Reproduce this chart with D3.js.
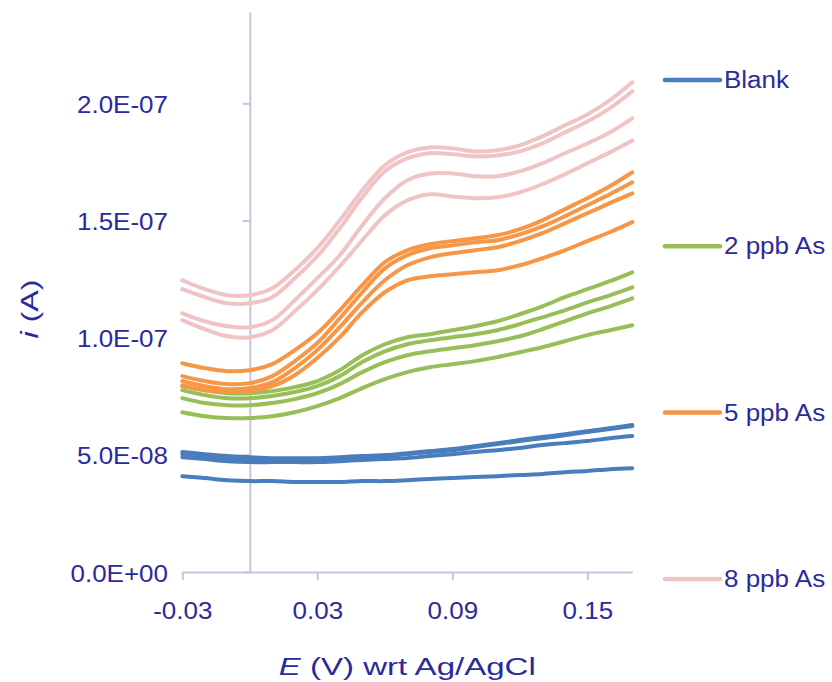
<!DOCTYPE html>
<html><head><meta charset="utf-8">
<script src="https://cdn.jsdelivr.net/npm/d3@7"></script>
<style>
body{margin:0;background:#fff}
svg{display:block}
text{font-family:"Liberation Sans",Arial,sans-serif;fill:#2a2a9c}
</style>
</head><body>
<svg id="chart" width="832" height="682"></svg>
<script>
// ---- data ----
const POTENTIAL_V = [-0.03,-0.02,-0.01,0.00,0.01,0.02,0.03,0.04,0.05,0.06,0.07,0.08,0.09,0.10,0.11,0.12,0.13,0.14,0.15,0.16,0.17];
const CURRENT_UNIT = 1e-8; // values below are in units of 1E-08 A

const blank1 = [5.12,5.03,4.95,4.90,4.86,4.86,4.86,4.90,4.95,4.99,5.07,5.16,5.25,5.37,5.50,5.63,5.76,5.88,6.01,6.14,6.27];
const blank2 = [5.03,4.95,4.86,4.82,4.78,4.78,4.82,4.86,4.90,4.95,5.03,5.12,5.20,5.33,5.46,5.59,5.71,5.84,5.97,6.10,6.23];
const blank3 = [4.90,4.82,4.73,4.69,4.69,4.69,4.69,4.73,4.78,4.82,4.86,4.95,5.03,5.12,5.20,5.29,5.42,5.50,5.59,5.71,5.80];
const blank4 = [4.09,4.01,3.92,3.88,3.88,3.84,3.84,3.84,3.88,3.88,3.92,3.97,4.01,4.05,4.09,4.14,4.18,4.26,4.31,4.39,4.43];

const ppb2_1 = [7.93,7.76,7.63,7.63,7.72,7.89,8.15,8.61,9.25,9.72,10.02,10.15,10.32,10.49,10.70,11.00,11.34,11.73,12.07,12.41,12.79];
const ppb2_2 = [7.76,7.55,7.42,7.42,7.51,7.68,7.93,8.36,8.96,9.42,9.72,9.89,10.02,10.15,10.32,10.58,10.87,11.17,11.51,11.81,12.15];
const ppb2_3 = [7.42,7.21,7.12,7.12,7.21,7.38,7.63,8.02,8.53,8.96,9.25,9.42,9.55,9.68,9.85,10.06,10.36,10.70,11.04,11.34,11.68];
const ppb2_4 = [6.82,6.65,6.57,6.57,6.65,6.82,7.08,7.42,7.85,8.23,8.53,8.74,8.87,9.00,9.17,9.38,9.59,9.85,10.11,10.32,10.53];

const ppb5_1 = [8.91,8.70,8.57,8.61,8.87,9.47,10.19,11.17,12.24,13.22,13.73,13.99,14.12,14.24,14.37,14.63,15.01,15.48,15.95,16.46,17.06];
const ppb5_2 = [8.36,8.15,8.02,8.06,8.36,9.00,9.77,10.83,11.94,12.96,13.52,13.82,13.94,14.07,14.16,14.41,14.75,15.18,15.65,16.12,16.63];
const ppb5_3 = [8.15,7.93,7.80,7.85,8.10,8.70,9.47,10.45,11.51,12.45,13.09,13.43,13.60,13.73,13.86,14.12,14.46,14.88,15.31,15.74,16.16];
const ppb5_4 = [7.97,7.76,7.68,7.72,7.93,8.40,9.13,10.02,11.09,11.94,12.45,12.62,12.71,12.79,12.88,13.09,13.39,13.73,14.12,14.50,14.93];

const ppb8_1 = [12.45,12.07,11.81,11.81,12.11,12.88,13.82,15.01,16.29,17.36,17.91,18.12,18.08,17.95,18.00,18.21,18.59,19.06,19.53,20.13,20.90];
const ppb8_2 = [12.07,11.73,11.47,11.47,11.73,12.54,13.48,14.67,15.99,17.10,17.65,17.87,17.83,17.74,17.78,17.95,18.29,18.76,19.23,19.79,20.51];
const ppb8_3 = [11.04,10.70,10.49,10.45,10.75,11.60,12.54,13.52,14.80,15.95,16.72,17.01,17.01,16.89,16.89,17.10,17.44,17.87,18.29,18.76,19.36];
const ppb8_4 = [10.75,10.36,10.06,10.02,10.32,11.13,12.03,13.05,14.16,15.22,15.86,16.12,16.03,15.95,15.99,16.20,16.55,16.97,17.44,17.91,18.42];

const SERIES_NAMES = ["Blank","2 ppb As","5 ppb As","8 ppb As"];
const SERIES_COLORS = ["#4a7dbb","#98bf57","#f79646","#f0c4c4"];
const SERIES_CURVES = [[blank1,blank2,blank3,blank4],[ppb2_1,ppb2_2,ppb2_3,ppb2_4],[ppb5_1,ppb5_2,ppb5_3,ppb5_4],[ppb8_1,ppb8_2,ppb8_3,ppb8_4]];

const X_TICKS = [-0.03,0.03,0.09,0.15];
const X_TICK_LABELS = ["-0.03","0.03","0.09","0.15"];
const Y_TICKS = [0,5e-8,1e-7,1.5e-7,2e-7];
const Y_TICK_LABELS = ["0.0E+00","5.0E-08","1.0E-07","1.5E-07","2.0E-07"];
const X_DOMAIN = [-0.03,0.17];
const Y_DOMAIN = [0,2.39e-7];

// ---- layout ----
const plot = {left:182.3, right:632.3, top:12, bottom:572};
const SX = 1.13;            // horizontal text stretch
const FONT = 23;
const AXIS_COLOR = "#c4c4dd";

const svg = d3.select("#chart");
const x = d3.scaleLinear().domain(X_DOMAIN).range([plot.left, plot.right]);
const y = d3.scaleLinear().domain(Y_DOMAIN).range([plot.bottom, plot.top]);

// y axis (crosses at x = 0)
const yAxis = svg.append("g").attr("transform",`translate(${x(0)},0)`)
  .call(d3.axisLeft(y).tickValues(Y_TICKS).tickFormat((d,i)=>Y_TICK_LABELS[i]).tickSize(7).tickSizeOuter(0));
yAxis.select(".domain").attr("stroke",AXIS_COLOR).attr("stroke-width",2);
yAxis.selectAll(".tick line").attr("stroke",AXIS_COLOR).attr("stroke-width",2);
const yLabelRight = 168 - x(0);
yAxis.selectAll(".tick text")
  .attr("x",0).attr("y",0).attr("dy",null)
  .attr("transform",`translate(${yLabelRight},9) scale(${SX},1)`)
  .attr("text-anchor","end").attr("font-size",FONT).attr("fill","#2a2a9c")
  .style("font-family",'"Liberation Sans",Arial,sans-serif');

// x axis
const xAxis = svg.append("g").attr("transform",`translate(0,${plot.bottom})`)
  .call(d3.axisBottom(x).tickValues(X_TICKS).tickFormat((d,i)=>X_TICK_LABELS[i]).tickSize(8).tickSizeOuter(0));
xAxis.select(".domain").attr("stroke",AXIS_COLOR).attr("stroke-width",2);
xAxis.selectAll(".tick line").attr("stroke",AXIS_COLOR).attr("stroke-width",2);
xAxis.selectAll(".tick text")
  .attr("x",0).attr("y",0).attr("dy",null)
  .attr("transform",`translate(0,47) scale(${SX},1)`)
  .attr("text-anchor","middle").attr("font-size",FONT).attr("fill","#2a2a9c")
  .style("font-family",'"Liberation Sans",Arial,sans-serif');

// curves
const line = d3.line()
  .x((d,i)=>x(POTENTIAL_V[i]))
  .y(d=>y(d*CURRENT_UNIT))
  .curve(d3.curveCatmullRom.alpha(0.5));
SERIES_CURVES.forEach((curves,si)=>{
  const g = svg.append("g");
  curves.forEach(c=>{
    g.append("path").attr("d",line(c)).attr("fill","none")
      .attr("stroke",SERIES_COLORS[si]).attr("stroke-width",4)
      .attr("stroke-linejoin","round").attr("stroke-linecap","round");
  });
});

// legend
const legend = svg.append("g");
SERIES_NAMES.forEach((name,i)=>{
  const ly = 80 + i*166.3;
  legend.append("line").attr("x1",665).attr("x2",720).attr("y1",ly).attr("y2",ly)
    .attr("stroke",SERIES_COLORS[i]).attr("stroke-width",4.5).attr("stroke-linecap","round");
  legend.append("text").attr("transform",`translate(724,${ly+8}) scale(${SX},1)`)
    .attr("font-size",FONT).text(name);
});

// axis titles
function fitWidth(sel, cx, cy, width, rotate){
  const w = sel.node().getComputedTextLength();
  const s = width / w;
  sel.attr("transform",`translate(${cx},${cy})${rotate?" rotate(-90)":""} scale(${s},1)`);
}
const xt = svg.append("text").attr("text-anchor","middle").attr("font-size",24);
xt.append("tspan").attr("font-style","italic").text("E");
xt.append("tspan").text(" (V) wrt Ag/AgCl");
fitWidth(xt, (plot.left+plot.right)/2, 675, 257, false);

const yt = svg.append("text").attr("text-anchor","middle").attr("font-size",24);
yt.append("tspan").attr("font-style","italic").text("i");
yt.append("tspan").text(" (A)");
fitWidth(yt, 38, 309, 59, true);
</script>
</body></html>
